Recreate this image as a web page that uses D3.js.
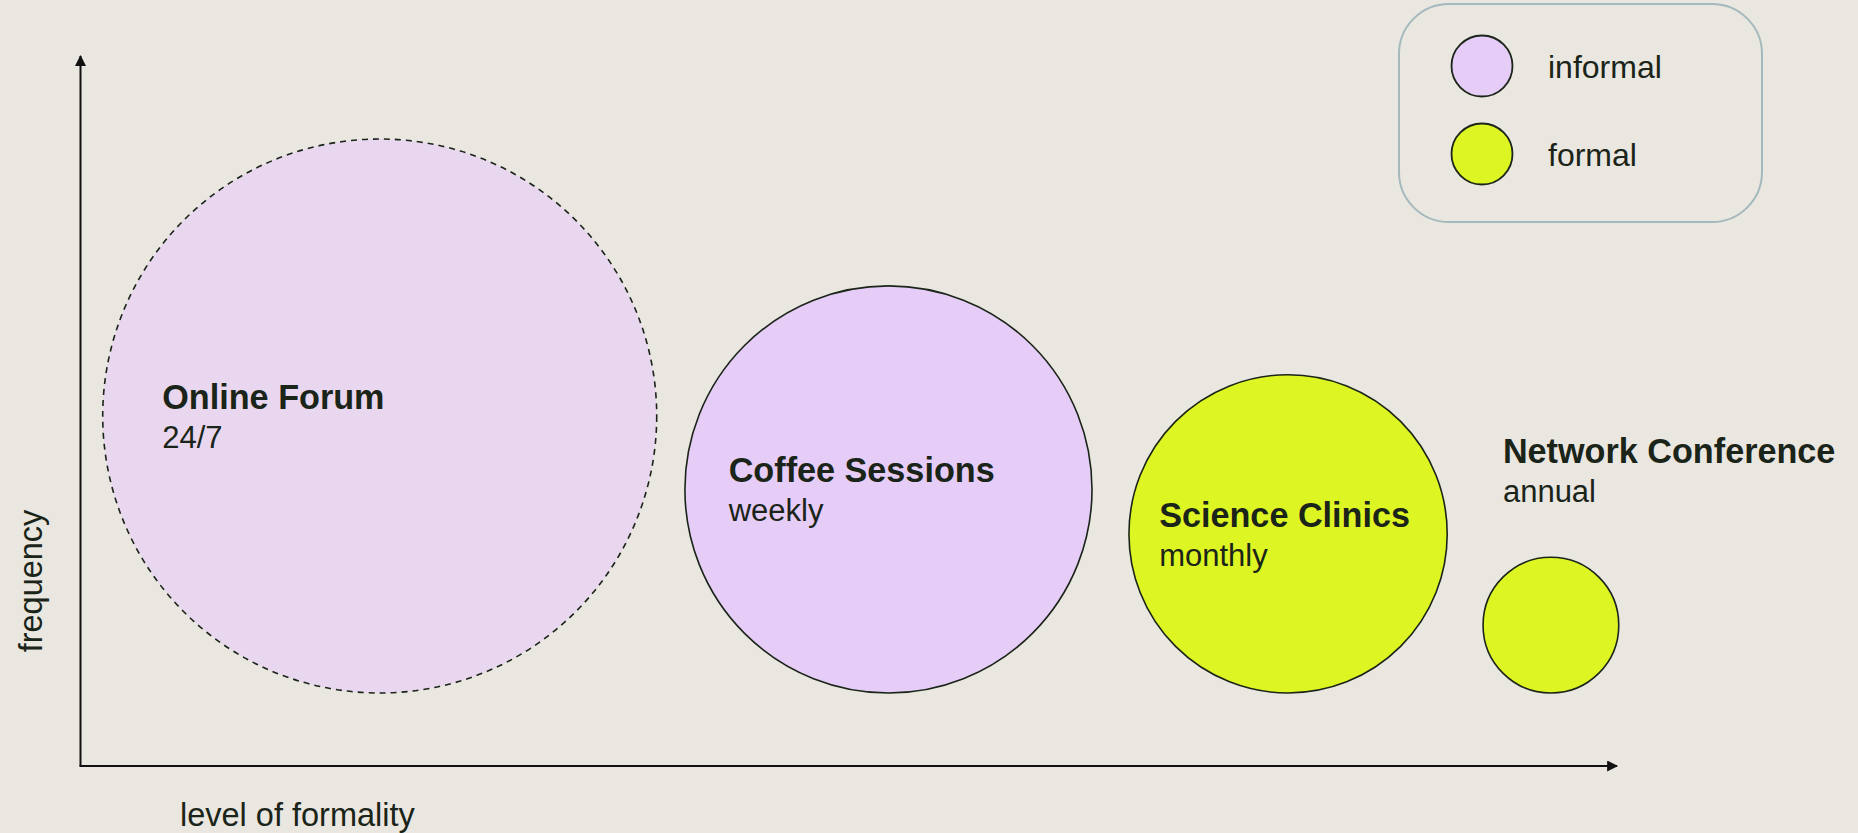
<!DOCTYPE html>
<html>
<head>
<meta charset="utf-8">
<script src="https://cdn.jsdelivr.net/npm/d3@7"></script>
<style>
  html, body { margin: 0; padding: 0; background: #eae7e0; }
  svg { display: block; font-family: "Liberation Sans", Arial, Helvetica, sans-serif; }
</style>
</head>
<body>
<div id="chart"></div>
<script>
const formats = ['Online Forum', 'Coffee Sessions', 'Science Clinics', 'Network Conference'];
const frequencyLabels = ['24/7', 'weekly', 'monthly', 'annual'];
const formatTypes = ['informal', 'informal', 'formal', 'formal'];
const formality = [1.95, 5.26, 7.86, 9.57];
const frequencyScore = [100, 54, 33, 6];
const legendItems = ['informal', 'formal'];

const width = 1858, height = 833;
const ink = '#1a2418';

const svg = d3.select('#chart').append('svg')
  .attr('width', width)
  .attr('height', height);

// arrow heads for the axes
svg.append('defs').append('marker')
  .attr('id', 'arrow')
  .attr('viewBox', '0 0 10 10')
  .attr('refX', 9).attr('refY', 5)
  .attr('markerWidth', 14).attr('markerHeight', 11)
  .attr('markerUnits', 'userSpaceOnUse')
  .attr('orient', 'auto')
  .append('path')
  .attr('d', 'M0,0 L10,5 L0,10 Z')
  .attr('fill', '#111');

const x = d3.scaleLinear().domain([0, 10]).range([80, 1617]);
const r = d3.scaleSqrt().domain([0, 100]).range([0, 277]);
const baseY = 693; // every bubble sits on the same line
const colour = d3.scaleOrdinal().domain(legendItems).range(['#e6cdf8', '#def524']);

const data = formats.map((name, i) => ({
  name,
  freq: frequencyLabels[i],
  type: formatTypes[i],
  cx: x(formality[i]),
  r: r(frequencyScore[i]),
  dashed: frequencyLabels[i] === '24/7'
}));

// axes
const originY = 766;
svg.append('line')
  .attr('x1', 80.5).attr('y1', originY)
  .attr('x2', 80.5).attr('y2', 56)
  .attr('stroke', '#111').attr('stroke-width', 2)
  .attr('marker-end', 'url(#arrow)');
svg.append('line')
  .attr('x1', 79.5).attr('y1', originY)
  .attr('x2', x(10)).attr('y2', originY)
  .attr('stroke', '#111').attr('stroke-width', 2)
  .attr('marker-end', 'url(#arrow)');

svg.append('text')
  .attr('x', 180).attr('y', 826)
  .attr('font-size', 32.5)
  .attr('fill', ink)
  .text('level of formality');

svg.append('text')
  .attr('transform', 'translate(42,581) rotate(-90)')
  .attr('text-anchor', 'middle')
  .attr('font-size', 32.5)
  .attr('fill', ink)
  .text('frequency');

// bubbles
const bubbles = svg.selectAll('.bubble')
  .data(data)
  .enter()
  .append('g')
  .attr('class', 'bubble');

bubbles.append('circle')
  .attr('cx', d => d.cx)
  .attr('cy', d => baseY - d.r)
  .attr('r', d => d.r)
  .attr('fill', d => colour(d.type))
  .attr('fill-opacity', d => d.dashed ? 0.6 : 1)
  .attr('stroke', ink)
  .attr('stroke-width', 1.6)
  .attr('stroke-dasharray', d => d.dashed ? '6 5' : null);

// labels go inside big bubbles, above the small one
const labelX = d => d.r > 100 ? d.cx - 0.785 * d.r - (d.r < 180 ? 4 : 0) : d.cx - 48;
const labelY = d => d.r > 100 ? baseY - d.r - 7 : baseY - 2 * d.r - 94;

bubbles.append('text')
  .attr('x', labelX)
  .attr('y', labelY)
  .attr('font-size', 34.2)
  .attr('font-weight', 'bold')
  .attr('fill', ink)
  .text(d => d.name);

bubbles.append('text')
  .attr('x', labelX)
  .attr('y', d => labelY(d) + 39)
  .attr('font-size', 31)
  .attr('fill', ink)
  .text(d => d.freq);

// legend
const legend = svg.append('g').attr('class', 'legend');
legend.append('rect')
  .attr('x', 1399).attr('y', 4)
  .attr('width', 363).attr('height', 218)
  .attr('rx', 50).attr('ry', 50)
  .attr('fill', 'none')
  .attr('stroke', '#a3b9bc')
  .attr('stroke-width', 2);

const legendRow = legend.selectAll('.row')
  .data(legendItems)
  .enter()
  .append('g')
  .attr('class', 'row')
  .attr('transform', (d, i) => `translate(0,${66 + i * 88})`);

legendRow.append('circle')
  .attr('cx', 1482).attr('cy', 0).attr('r', 30.5)
  .attr('fill', d => colour(d))
  .attr('stroke', ink)
  .attr('stroke-width', 1.8);

legendRow.append('text')
  .attr('x', 1548).attr('y', 12)
  .attr('font-size', 32)
  .attr('fill', ink)
  .text(d => d);
</script>
</body>
</html>
